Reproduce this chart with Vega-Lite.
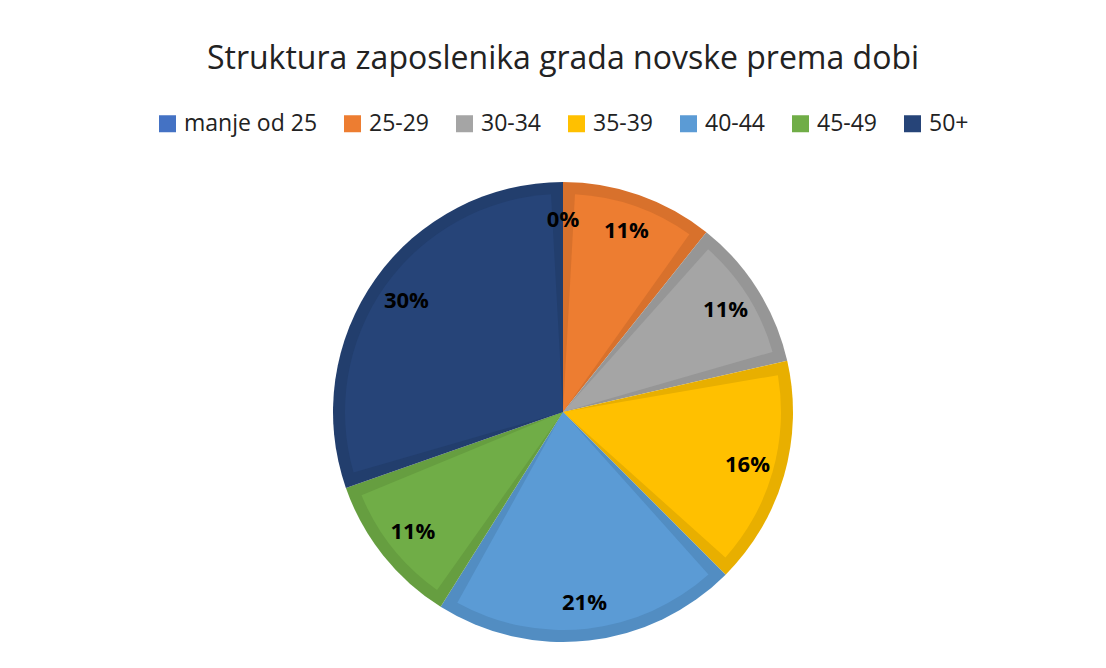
{
  "$schema": "https://vega.github.io/schema/vega-lite/v6.json",
  "width": 460,
  "height": 460,
  "autosize": {"type": "none"},
  "padding": {"left": 333, "top": 182, "right": 313, "bottom": 26},
  "background": "white",
  "title": {
    "text": "Struktura zaposlenika grada novske prema dobi",
    "font": "Open Sans",
    "fontSize": 32,
    "fontWeight": "normal",
    "color": "#222222",
    "anchor": "middle",
    "frame": "group",
    "offset": 36
  },
  "data": {
    "values": [
      {"k": 1, "dob": "manje od 25", "broj": 0, "postotak": "0%"},
      {"k": 2, "dob": "25-29", "broj": 6, "postotak": "11%"},
      {"k": 3, "dob": "30-34", "broj": 6, "postotak": "11%"},
      {"k": 4, "dob": "35-39", "broj": 9, "postotak": "16%"},
      {"k": 5, "dob": "40-44", "broj": 12, "postotak": "21%"},
      {"k": 6, "dob": "45-49", "broj": 6, "postotak": "11%"},
      {"k": 7, "dob": "50+", "broj": 17, "postotak": "30%"}
    ]
  },
  "encoding": {
    "theta": {"field": "broj", "type": "quantitative", "stack": true},
    "order": {"field": "k", "type": "quantitative"}
  },
  "layer": [
    {
      "mark": {"type": "arc", "outerRadius": 230},
      "encoding": {
        "color": {
          "field": "dob",
          "type": "nominal",
          "scale": {
            "domain": ["manje od 25", "25-29", "30-34", "35-39", "40-44", "45-49", "50+"],
            "range": ["#3E68B3", "#D8712C", "#969696", "#E8AF00", "#528DC2", "#669E40", "#223E6D"]
          },
          "legend": null
        }
      }
    },
    {
      "mark": {"type": "arc", "outerRadius": 218, "padAngle": 0.11},
      "encoding": {
        "color": {
          "field": "dob",
          "type": "nominal",
          "scale": {
            "domain": ["manje od 25", "25-29", "30-34", "35-39", "40-44", "45-49", "50+"],
            "range": ["#4472C4", "#ED7D31", "#A5A5A5", "#FFC000", "#5B9BD5", "#70AD47", "#264478"]
          },
          "legend": {
            "orient": "none",
            "legendX": -177,
            "legendY": -70,
            "direction": "horizontal",
            "columns": 7,
            "title": null,
            "symbolType": "square",
            "symbolSize": 289,
            "symbolStrokeWidth": 0,
            "labelFont": "Open Sans",
            "labelFontSize": 23,
            "labelColor": "#222222",
            "labelOffset": 5,
            "columnPadding": 23
          }
        }
      }
    },
    {
      "mark": {"type": "text", "radius": 192, "font": "Open Sans", "fontSize": 22, "fontWeight": "bold", "color": "#000000"},
      "encoding": {"text": {"field": "postotak", "type": "nominal"}}
    }
  ],
  "resolve": {"scale": {"color": "independent"}, "legend": {"color": "independent"}},
  "config": {"view": {"stroke": null}}
}
